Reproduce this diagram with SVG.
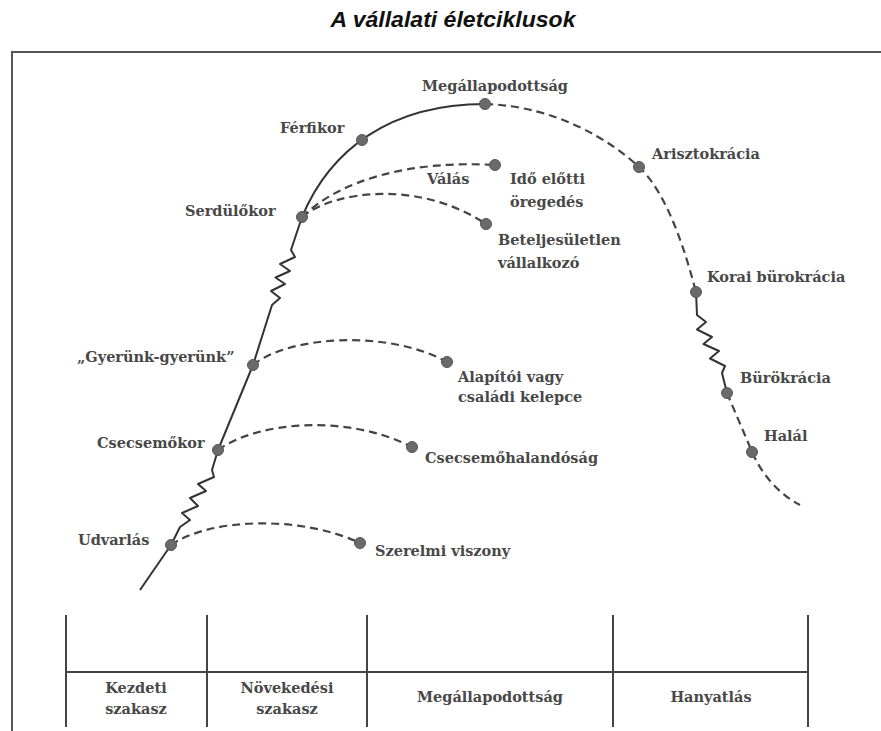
<svg xmlns="http://www.w3.org/2000/svg" width="881" height="731" viewBox="0 0 881 731">
<style>
.t{font-family:"DejaVu Serif","Liberation Serif",serif;font-weight:bold;font-size:14.5px;fill:#484848}
.tc{text-anchor:middle}
.solid{fill:none;stroke:#333;stroke-width:2;stroke-linejoin:round}
.dash{fill:none;stroke:#444;stroke-width:2.2;stroke-dasharray:8 5}
.dot{fill:#6a6a6a;stroke:#555;stroke-width:1}
.frame{fill:none;stroke:#555;stroke-width:2}
.grid{fill:none;stroke:#444;stroke-width:2}
</style>
<rect width="881" height="731" fill="#ffffff"/>
<text x="453" y="27" text-anchor="middle" font-family="Liberation Sans, Arial, sans-serif" font-weight="bold" font-style="italic" font-size="21.5" textLength="245" lengthAdjust="spacingAndGlyphs" fill="#111">A vállalati életciklusok</text>
<g id="frame">
<path class="frame" d="M12,731 V52 H881"/>
</g>
<g id="table">
<path class="grid" d="M66,615 V727 M207,615 V727 M367,615 V727 M613,615 V727 M808,615 V727 M66,672 H808"/>
<text class="t tc" x="136" y="693">Kezdeti</text>
<text class="t tc" x="136" y="714">szakasz</text>
<text class="t tc" x="287" y="693">Növekedési</text>
<text class="t tc" x="287" y="714">szakasz</text>
<text class="t tc" x="490" y="702">Megállapodottság</text>
<text class="t tc" x="711" y="702">Hanyatlás</text>
</g>
<g id="connectors">
<path class="solid" d="M140,590 L171,545 L180,527 L190,520 L182,513 L198,506 L190,498 L206,491 L198,484 L214,477 L212,470 L218,450 L253,365 L272,305 L280,298 L271,291 L285,284 L275.5,277.5 L290,271 L280,264 L295,257 L291,250 L302,217 C330,150 390,104 485,104"/>
<path class="dash" d="M485,104 C555,106 610,140 639,167 C667,193 685,250 696,292"/>
<path class="solid" d="M696,292 L697,315 L706,322 L697,329.5 L712,337 L703.5,344 L719,351 L710,358.5 L725,366 L722,373 L727,393"/>
<path class="dash" d="M727,393 C735,412 745,435 752,452 C762,475 780,495 800,505"/>
<path class="dash" d="M302,217 C340,180 410,160 495,165"/>
<path class="dash" d="M302,217 C335,190 420,180 486,224"/>
<path class="dash" d="M253,365 C290,335 390,330 447,362"/>
<path class="dash" d="M218,450 C260,420 350,415 412,447"/>
<path class="dash" d="M171,545 C210,518 300,515 360,543"/>
</g>
<g id="udvarlas"><circle class="dot" cx="171" cy="545" r="5.5"/><text class="t" x="78" y="545">Udvarlás</text></g>
<g id="szerelmi"><circle class="dot" cx="360" cy="543" r="5.5"/><text class="t" x="375" y="556">Szerelmi viszony</text></g>
<g id="csecsemokor"><circle class="dot" cx="218" cy="450" r="5.5"/><text class="t" x="97" y="448">Csecsemőkor</text></g>
<g id="csecsemohalandosag"><circle class="dot" cx="412" cy="447" r="5.5"/><text class="t" x="425" y="463">Csecsemőhalandóság</text></g>
<g id="gyerunk"><circle class="dot" cx="253" cy="365" r="5.5"/><text class="t" x="77" y="362">„Gyerünk-gyerünk”</text></g>
<g id="alapitoi"><circle class="dot" cx="447" cy="362" r="5.5"/><text class="t" x="458" y="382">Alapítói vagy</text><text class="t" x="458" y="402">családi kelepce</text></g>
<g id="serdulokor"><circle class="dot" cx="302" cy="217" r="5.5"/><text class="t" x="185" y="216">Serdülőkor</text></g>
<g id="beteljesuletlen"><circle class="dot" cx="486" cy="224" r="5.5"/><text class="t" x="498" y="245">Beteljesületlen</text><text class="t" x="498" y="268">vállalkozó</text></g>
<g id="ido-elotti"><circle class="dot" cx="495" cy="165" r="5.5"/><text class="t" x="427" y="184">Válás</text><text class="t" x="510" y="184">Idő előtti</text><text class="t" x="510" y="207">öregedés</text></g>
<g id="ferfikor"><circle class="dot" cx="362" cy="140" r="5.5"/><text class="t" x="280" y="133">Férfikor</text></g>
<g id="megallapodottsag"><circle class="dot" cx="485" cy="104" r="5.5"/><text class="t" x="422" y="91">Megállapodottság</text></g>
<g id="arisztokracia"><circle class="dot" cx="639" cy="167" r="5.5"/><text class="t" x="652" y="159">Arisztokrácia</text></g>
<g id="korai-burokracia"><circle class="dot" cx="696" cy="292" r="5.5"/><text class="t" x="707" y="282">Korai bürokrácia</text></g>
<g id="burokracia"><circle class="dot" cx="727" cy="393" r="5.5"/><text class="t" x="740" y="383">Bürökrácia</text></g>
<g id="halal"><circle class="dot" cx="752" cy="452" r="5.5"/><text class="t" x="764" y="441">Halál</text></g>
</svg>
